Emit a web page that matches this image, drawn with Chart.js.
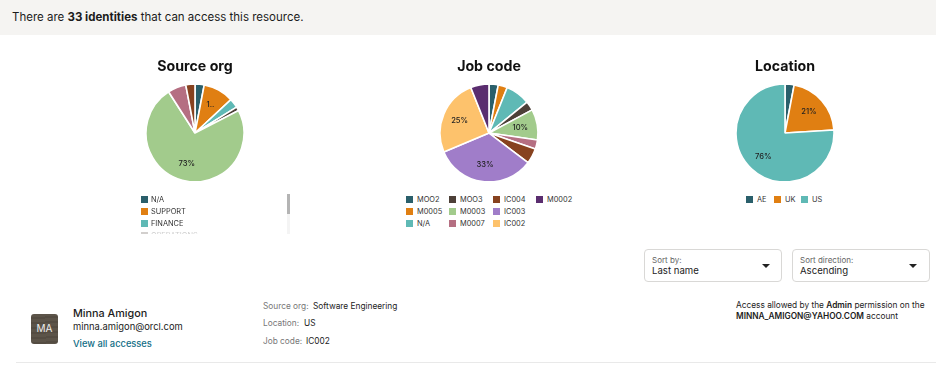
<!DOCTYPE html>
<html><head><meta charset="utf-8">
<script src="https://cdn.jsdelivr.net/npm/chart.js@4/dist/chart.umd.min.js"></script>
<style>
html,body{margin:0;padding:0;background:#fff;width:936px;height:370px;overflow:hidden;font-family:Inter,"Noto Sans",sans-serif;color:#1c1c1c}
.t{position:absolute;white-space:nowrap;line-height:1}
.t b{font-weight:600}
#band{position:absolute;left:0;top:0;width:936px;height:35px;background:#f5f4f2}
canvas{position:absolute}
.sw{position:absolute;width:7px;height:7px}
.lg{position:absolute;font-size:7.4px;line-height:8px;white-space:nowrap;color:#333}
#clip{position:absolute;left:130px;top:190px;width:150px;height:44px;overflow:hidden;-webkit-mask-image:linear-gradient(#000 0,#000 37px,rgba(0,0,0,.25) 42px)}
.box{position:absolute;top:249px;height:33px;border:1px solid #d9d8d6;border-radius:4px;box-sizing:border-box;background:#fff}
.arrow{position:absolute;top:264px;width:0;height:0;border-left:4.5px solid transparent;border-right:4.5px solid transparent;border-top:4.5px solid #222}
</style></head><body>
<div id="band"></div>
<div class="t" style="left:12px;top:11px;font-size:11.5px;line-height:13px">There are <b style="font-weight:700">33 identities</b> that can access this resource.</div>

<canvas id="c1" width="200" height="127" style="left:95px;top:54px;width:200px;height:127px"></canvas>
<canvas id="c2" width="200" height="127" style="left:389px;top:54px;width:200px;height:127px"></canvas>
<canvas id="c3" width="200" height="127" style="left:685px;top:54px;width:200px;height:127px"></canvas>
<div id="clip"></div>
<div id="legends"></div>
<div style="position:absolute;left:287px;top:194px;width:3px;height:40px;background:#f4f4f4"></div>
<div style="position:absolute;left:287px;top:194px;width:3px;height:20px;background:#b4b4b4"></div>

<div class="box" style="left:644px;width:138px"></div>
<div class="t" style="left:652px;top:256px;font-size:8px;color:#666">Sort by:</div>
<div class="t" style="left:652px;top:265px;font-size:9.6px;line-height:11px">Last name</div>
<div class="arrow" style="left:762px"></div>
<div class="box" style="left:792px;width:138px"></div>
<div class="t" style="left:800px;top:256px;font-size:8px;color:#666">Sort direction:</div>
<div class="t" style="left:800px;top:265px;font-size:9.6px;line-height:11px">Ascending</div>
<div class="arrow" style="left:909px"></div>

<div class="t" style="left:736px;top:300px;font-size:8.3px;line-height:10px">Access allowed by the <b>Admin</b> permission on the</div>
<div class="t" style="left:736px;top:311px;font-size:8.3px;line-height:10px"><b>MINNA_AMIGON@YAHOO.COM</b> account</div>

<div style="position:absolute;left:31px;top:314px;width:27px;height:30px;border-radius:3px;background:repeating-linear-gradient(178deg,#5c5449 0 3px,#544c42 3px 5px)"></div>
<div class="t" style="left:31px;width:27px;text-align:center;top:323px;font-size:10px;color:#eee">MA</div>
<div class="t" style="left:73px;top:307px;font-size:10.8px;line-height:13px;font-weight:500">Minna Amigon</div>
<div class="t" style="left:73px;top:321px;font-size:9.4px;line-height:11px">minna.amigon@orcl.com</div>
<div class="t" style="left:73px;top:338px;font-size:9.3px;line-height:11px;color:#0f6d85;font-weight:500">View all accesses</div>

<div class="t" style="left:263px;top:301px;font-size:8.3px;line-height:10px;color:#777">Source org:</div>
<div class="t" style="left:313px;top:301px;font-size:8.3px;line-height:10px">Software Engineering</div>
<div class="t" style="left:263px;top:318px;font-size:8.3px;line-height:10px;color:#777">Location:</div>
<div class="t" style="left:304px;top:318px;font-size:8.3px;line-height:10px">US</div>
<div class="t" style="left:263px;top:336px;font-size:8.3px;line-height:10px;color:#777">Job code:</div>
<div class="t" style="left:306px;top:336px;font-size:8.3px;line-height:10px">IC002</div>
<div style="position:absolute;left:16px;top:362px;width:920px;height:1px;background:#e9e9e9"></div>

<script>
const tealDark='#2a5f6b',orange='#e07f12',teal='#5fb9b5',umber='#4d4038',green='#a2cb8c',
      rose='#b56f82',brown='#87421f',purple='#a07dc9',yellow='#fdc26c',plum='#5a2d6f';

const sourceTitle='Source org';
const sourceCats=['N/A','SUPPORT','FINANCE','OPERATIONS','SOFTWARE ENGINEERING','SALES','HR'];
const sourceVals=[3,10,3,1.3,73,6,3];
const sourceText=['','1..','','','73%','',''];
const sourceColors=[tealDark,orange,teal,umber,green,rose,brown];

const jobTitle='Job code';
const jobCats=['MOO2','M0005','N/A','MOO3','M0003','M0007','IC004','IC003','IC002','M0002'];
const jobVals=[3,3,8,3,10,3,5,33,25,6];
const jobText=['','','','','10%','','','33%','25%',''];
const jobColors=[tealDark,orange,teal,umber,green,rose,brown,purple,yellow,plum];

const locTitle='Location';
const locCats=['AE','UK','US'];
const locVals=[3,21,76];
const locText=['','21%','76%'];
const locColors=[tealDark,orange,teal];

const sliceText={id:'sliceText',afterDatasetsDraw(chart,args,opts){
  const c=chart.ctx,arcs=chart.getDatasetMeta(0).data;
  c.save();c.font='500 7.6px Inter';c.fillStyle='#222';c.textAlign='center';c.textBaseline='middle';
  arcs.forEach((a,i)=>{const s=opts.text[i];if(!s)return;
    const p=a.getProps(['x','y','startAngle','endAngle','outerRadius']);
    const m=(p.startAngle+p.endAngle)/2,r=p.outerRadius*0.65;
    c.fillText(s,p.x+Math.cos(m)*r,p.y+Math.sin(m)*r);});
  c.restore();}};

function pie(id,title,cats,vals,colors,text){
  new Chart(document.getElementById(id),{type:'pie',plugins:[sliceText],
    data:{labels:cats,datasets:[{data:vals,backgroundColor:colors,borderColor:'#fff',borderWidth:1.6}]},
    options:{responsive:false,animation:false,radius:49,layout:{padding:0},
      plugins:{legend:{display:false},tooltip:{enabled:false},
        title:{display:true,text:title,color:'#111',font:{family:'Inter',size:14.2,weight:'700'},padding:{top:4,bottom:10}},
        sliceText:{text}}}});
}
pie('c1',sourceTitle,sourceCats,sourceVals,sourceColors,sourceText);
pie('c2',jobTitle,jobCats,jobVals,jobColors,jobText);
pie('c3',locTitle,locCats,locVals,locColors,locText);

function item(host,ox,oy,x,y,col,label){
  const s=document.createElement('div');s.className='sw';s.style.cssText=`left:${x-ox}px;top:${y-oy-3.5}px;background:${col}`;
  const t=document.createElement('div');t.className='lg';t.textContent=label;t.style.cssText=`left:${x-ox+(ox?10:11)}px;top:${y-oy-3}px`;
  host.append(s,t);
}
const clip=document.getElementById('clip'),lg=document.getElementById('legends');
sourceCats.slice(0,4).forEach((n,i)=>item(clip,130,190,141,199+i*12,sourceColors[i],n));
const jobCols=[406,449,493,536],jobRows=[199,211,223];
const jobSlots=[[0,0],[0,1],[0,2],[1,0],[1,1],[1,2],[2,0],[2,1],[2,2],[3,0]];
jobCats.forEach((n,i)=>{
  const [col,row]=jobSlots[i];
  item(lg,0,0,jobCols[col],jobRows[row],jobColors[i],n);
});
locCats.forEach((n,i)=>item(lg,0,0,[746,774,801][i],199,locColors[i],n));
</script>
</body></html>
